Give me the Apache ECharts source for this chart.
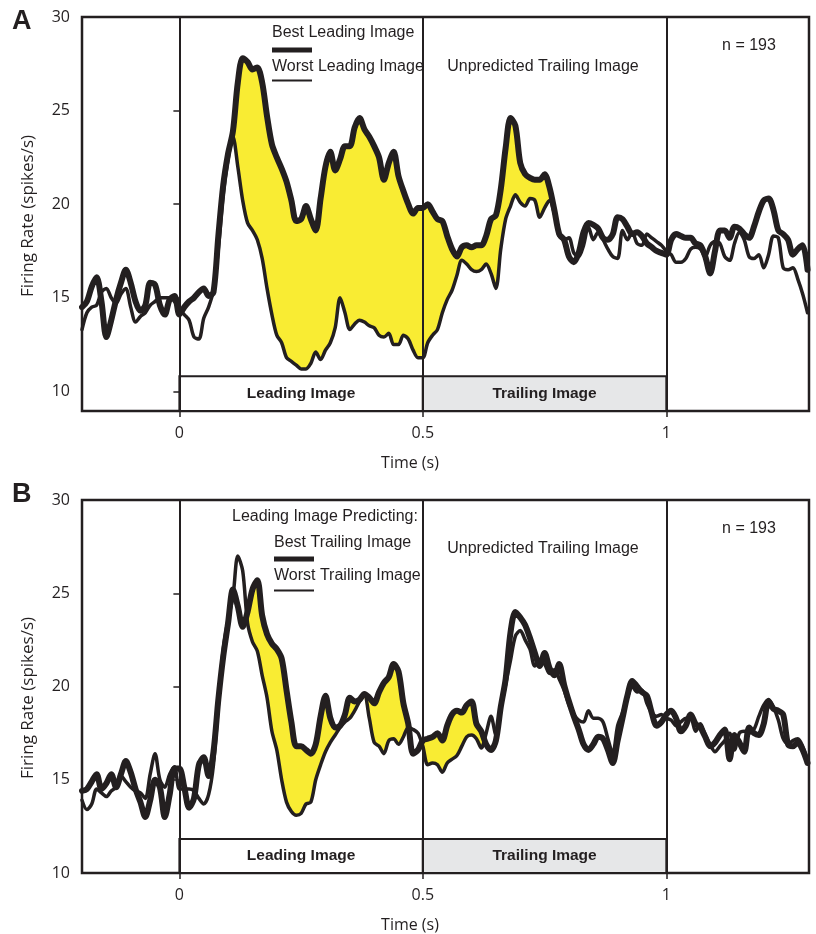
<!DOCTYPE html>
<html>
<head>
<meta charset="utf-8">
<script src="https://cdn.jsdelivr.net/npm/echarts@6/dist/echarts.min.js"></script>
<style>
  html, body { margin: 0; padding: 0; background: #fff; }
  #chart { width: 816px; height: 934px; }
</style>
</head>
<body>
<div id="chart"></div>
<script>
// sample grid (s): 10 ms steps from -0.20 to 1.29
const times = []
for (let i = 0; i < 150; i++) times.push(Math.round((-0.2 + i * 0.01) * 100) / 100)

// panel A, firing rate (spikes/s)
const bestLeadingA = [
  14.5, 14.8, 15.6, 16.1, 14.8, 12.9, 13.8, 14.9, 15.8, 16.5,
  15.8, 14.8, 14.3, 14.6, 15.8, 15.7, 14.6, 14.1, 14.9, 15.1,
  14.1, 14.5, 14.8, 15.0, 15.3, 15.5, 15.1, 15.3, 18.3, 21.0,
  22.7, 23.9, 26.5, 27.8, 27.6, 27.2, 27.3, 26.5, 24.7, 23.2,
  22.5, 21.9, 21.2, 20.2, 19.1, 19.2, 19.9, 19.2, 18.6, 20.3,
  22.0, 22.8, 21.8, 22.4, 23.1, 23.1, 24.1, 24.6, 24.0, 23.6,
  23.1, 22.5, 21.3, 22.2, 22.8, 21.5, 20.7, 20.0, 19.5, 19.8,
  19.8, 20.0, 19.6, 19.2, 19.1, 18.3, 17.6, 17.2, 17.7, 17.8,
  17.7, 17.8, 17.8, 18.3, 19.2, 19.4, 20.8, 23.0, 24.6, 24.2,
  22.2, 21.6, 21.4, 21.3, 21.3, 21.6, 20.9, 19.7, 18.4, 18.1,
  17.2, 16.9, 17.4, 18.5, 19.0, 18.9, 18.7, 18.2, 18.1, 18.4,
  19.3, 19.2, 18.8, 18.4, 18.5, 18.3, 17.9, 17.7, 17.5, 17.4,
  17.3, 18.1, 18.4, 18.3, 18.2, 18.2, 17.9, 17.8, 17.2, 16.3,
  17.5, 18.6, 18.6, 18.2, 18.8, 18.7, 18.4, 18.2, 18.8, 19.6,
  20.2, 20.3, 19.7, 18.6, 18.4, 18.1, 17.3, 17.6, 17.8, 16.5
]
const worstLeadingA = [
  13.3, 14.2, 14.5, 14.6, 15.3, 15.5, 15.0, 14.7, 15.2, 15.5,
  14.5, 13.7, 14.0, 14.2, 14.6, 14.8, 15.0, 15.0, 15.0, 14.8,
  14.4, 14.1, 13.8, 12.9, 12.8, 13.9, 14.5, 15.4, 17.6, 20.5,
  22.4, 23.6, 22.0, 20.2, 19.0, 18.6, 18.1, 17.1, 15.5, 14.1,
  13.0, 12.6, 11.8, 11.6, 11.4, 11.2, 11.2, 11.5, 12.1, 11.7,
  12.2, 12.6, 13.4, 15.0, 14.2, 13.3, 13.6, 13.8, 13.7, 13.5,
  13.4, 13.0, 12.9, 13.1, 12.5, 12.5, 13.0, 12.8, 12.2, 11.8,
  11.8, 12.6, 13.0, 13.3, 14.2, 14.9, 15.4, 16.2, 17.0, 16.8,
  16.5, 16.4, 16.5, 16.8, 16.3, 15.5, 17.6, 19.2, 19.9, 20.5,
  20.1, 19.9, 20.3, 20.2, 19.3, 19.8, 20.2, 19.5, 18.3, 18.1,
  18.2, 17.4, 17.2, 17.8, 18.8, 18.1, 18.5, 18.1, 17.6, 17.2,
  17.1, 18.6, 18.1, 18.5, 17.9, 17.8, 18.4, 18.2, 18.0, 17.8,
  17.5, 17.3, 16.9, 16.9, 17.1, 17.6, 17.7, 17.6, 17.2, 17.8,
  18.0, 17.9, 17.2, 17.0, 17.9, 18.5, 18.1, 17.2, 17.1, 17.3,
  16.6, 17.3, 18.3, 18.2, 16.6, 16.5, 16.6, 16.0, 15.2, 14.2
]

// panel B, firing rate (spikes/s)
const bestTrailingB = [
  14.4, 14.5, 14.9, 15.3, 14.5, 14.8, 15.3, 14.6, 15.3, 16.0,
  15.4, 14.5, 13.8, 13.0, 13.9, 15.0, 14.6, 13.0, 14.2, 15.6,
  15.6, 14.6, 13.5, 14.0, 15.8, 16.2, 15.2, 16.5, 19.3, 21.6,
  23.4, 25.2, 24.3, 23.2, 24.0, 25.2, 25.7, 23.8, 22.8, 22.3,
  22.0, 21.5, 19.8, 18.1, 16.8, 16.8, 16.6, 16.4, 16.9, 18.4,
  19.5, 18.3, 17.8, 17.9, 18.5, 19.4, 19.2, 19.3, 19.6, 19.4,
  19.1, 19.7, 20.2, 20.5, 21.2, 20.8, 19.1, 18.0, 16.4, 16.6,
  17.1, 17.2, 17.3, 17.5, 17.1, 17.9, 18.5, 18.7, 18.6, 19.0,
  19.2, 18.0, 17.6, 16.9, 16.6, 17.1, 18.9, 20.4, 22.9, 24.0,
  23.7, 23.3, 22.6, 21.8, 21.1, 21.8, 21.0, 20.6, 21.2, 20.1,
  19.2, 18.4, 17.7, 16.9, 16.6, 16.9, 17.3, 17.2, 16.6, 15.9,
  17.1, 18.3, 19.5, 20.3, 20.0, 19.7, 19.5, 18.6, 17.9, 18.1,
  18.5, 18.7, 18.3, 17.6, 17.9, 18.5, 18.0, 17.8, 17.3, 16.8,
  17.0, 17.4, 17.7, 16.1, 17.4, 17.0, 16.5, 17.8, 17.5, 17.4,
  18.0, 19.2, 18.8, 18.7, 18.5, 16.9, 16.8, 17.0, 16.6, 15.9
]
const worstTrailingB = [
  13.9, 13.4, 13.7, 14.5, 14.3, 14.1, 14.4, 14.6, 15.2, 14.9,
  14.6, 14.4, 14.3, 14.0, 15.3, 16.4, 15.0, 14.6, 15.3, 15.7,
  14.5, 14.5, 14.5, 14.4, 14.0, 13.7, 14.2, 15.8, 19.0, 22.0,
  23.6, 24.8, 27.0, 26.2, 23.4, 22.4, 21.9, 20.6, 19.4, 17.6,
  16.6, 15.0, 13.8, 13.3, 13.1, 13.2, 13.7, 13.8, 15.0, 15.8,
  16.5, 17.0, 17.4, 17.8, 18.1, 18.3, 18.7, 19.2, 19.5, 18.3,
  17.0, 16.8, 16.4, 17.1, 17.2, 16.9, 17.3, 17.8, 17.7, 17.5,
  16.8, 15.8, 15.9, 15.8, 15.4, 15.9, 16.1, 16.3, 16.8, 17.3,
  17.4, 17.2, 16.7, 17.5, 18.4, 17.4, 18.8, 20.1, 21.4, 22.7,
  23.0, 22.5, 22.0, 21.1, 21.3, 21.2, 20.7, 20.9, 20.4, 19.8,
  19.0, 18.5, 18.2, 18.1, 18.7, 18.3, 18.3, 18.1, 17.2, 16.4,
  17.9, 18.6, 19.4, 20.0, 19.7, 19.8, 19.1, 18.6, 18.4, 18.5,
  18.3, 18.2, 17.9, 18.1, 18.3, 18.3, 17.6, 18.0, 17.4, 16.9,
  16.5, 16.8, 17.1, 17.5, 16.6, 17.5, 17.6, 17.5, 17.7, 18.4,
  19.0, 19.3, 18.9, 18.2, 17.2, 16.9, 17.1, 17.2, 16.8, 16.0
]

// time windows (s) where best > worst is shaded
const fillWindowsA = [[0.11, 0.77]]
const fillWindowsB = [[0.14, 0.33], [0.33, 0.48], [0.49, 0.64]]

const yTicks = [10, 15, 20, 25, 30]
const xTicks = [0, 0.5, 1]
const epochLines = [0, 0.5, 1]
const epochNames = ['Leading Image', 'Trailing Image']
const epochEdges = [0, 0.5, 1]

const INK = '#231f20'
const YELLOW = '#f9ec33'
const SANS = '"Liberation Sans", Arial, sans-serif'
const AXISFONT = '"Open Sans", sans-serif'

const chart = echarts.init(document.getElementById('chart'))

const panels = [
  { best: bestLeadingA, worst: worstLeadingA, fills: fillWindowsA, top: 17, height: 394, ymin: 8.95, boxTop: 10.8 },
  { best: bestTrailingB, worst: worstTrailingB, fills: fillWindowsB, top: 500, height: 373, ymin: 10, boxTop: 11.82 },
]

const grid = panels.map(p => ({
  left: 82, width: 727, top: p.top, height: p.height,
  show: true, borderColor: INK, borderWidth: 2.5, backgroundColor: 'transparent',
}))

const xAxis = panels.map((p, i) => ({
  type: 'value', gridIndex: i, min: -0.2, max: 1.293,
  axisLine: { show: false },
  splitLine: { show: false },
  axisTick: { show: true, customValues: xTicks, length: 6, lineStyle: { color: INK, width: 1.5 } },
  axisLabel: { customValues: xTicks, margin: 14, color: INK, fontSize: 16, fontFamily: AXISFONT, formatter: v => String(v) },
}))

const yAxis = panels.map((p, i) => ({
  type: 'value', gridIndex: i, min: p.ymin, max: 30,
  axisLine: { show: false },
  splitLine: { show: false },
  axisTick: { show: true, customValues: yTicks, length: 6, lineStyle: { color: INK, width: 1.5 } },
  axisLabel: { customValues: yTicks, margin: 12, color: INK, fontSize: 16, fontFamily: AXISFONT },
}))

function fillItem(p) {
  return function (params, api) {
    const [from, to] = p.fills[params.dataIndex]
    const upper = []
    const lower = []
    times.forEach((t, k) => {
      if (t < from - 1e-9 || t > to + 1e-9) return
      upper.push(api.coord([t, Math.max(p.best[k], p.worst[k])]))
      lower.push(api.coord([t, p.worst[k]]))
    })
    return {
      type: 'polygon',
      shape: { points: upper.concat(lower.reverse()) },
      style: { fill: YELLOW, stroke: YELLOW, lineWidth: 0.8 },
    }
  }
}

const series = []
panels.forEach((p, i) => {
  series.push({
    type: 'custom', xAxisIndex: i, yAxisIndex: i, z: 1, silent: true,
    renderItem: fillItem(p),
    data: p.fills.map(w => [w[0], 20]),
  })
  series.push({
    type: 'line', xAxisIndex: i, yAxisIndex: i, z: 2, silent: true, data: [],
    markLine: {
      silent: true, symbol: 'none', label: { show: false },
      lineStyle: { color: INK, width: 2, type: 'solid' },
      data: epochLines.map(x => ({ xAxis: x })),
    },
    markArea: {
      silent: true,
      data: epochNames.map((name, k) => [
        {
          xAxis: epochEdges[k], yAxis: p.ymin, name,
          itemStyle: { color: k === 0 ? '#ffffff' : '#e6e7e8', borderColor: INK, borderWidth: 2 },
        },
        { xAxis: epochEdges[k + 1], yAxis: p.boxTop },
      ]),
      label: { show: true, position: 'inside', color: INK, fontWeight: 'bold', fontSize: 15.5, fontFamily: SANS },
    },
  })
  series.push({
    type: 'line', xAxisIndex: i, yAxisIndex: i, z: 3, silent: true,
    showSymbol: false, smooth: 0.3,
    lineStyle: { color: INK, width: 3.5, cap: 'round', join: 'round' },
    data: times.map((t, k) => [t, p.worst[k]]),
  })
  series.push({
    type: 'line', xAxisIndex: i, yAxisIndex: i, z: 4, silent: true,
    showSymbol: false, smooth: 0.3,
    lineStyle: { color: INK, width: 6, cap: 'round', join: 'round' },
    data: times.map((t, k) => [t, p.best[k]]),
  })
})

function label(text, x, y, opts = {}) {
  return {
    type: 'text', x, y, rotation: opts.rotation || 0, z: 10,
    style: {
      text, fill: INK,
      font: opts.font || ('16px ' + SANS),
      align: opts.align || 'left', verticalAlign: 'middle',
      textAlign: opts.align || 'left', textVerticalAlign: 'middle',
    },
  }
}
function bar(x1, x2, y, w) {
  return { type: 'line', z: 10, shape: { x1, y1: y, x2, y2: y }, style: { stroke: INK, lineWidth: w } }
}

const graphic = [
  label('A', 12, 22, { font: 'bold 27px ' + SANS }),
  label('B', 12, 495, { font: 'bold 27px ' + SANS }),
  label('Best Leading Image', 272, 33),
  bar(272, 312, 50, 5),
  label('Worst Leading Image', 272, 67),
  bar(272, 312, 80.5, 2),
  label('Unpredicted Trailing Image', 543, 67, { align: 'center' }),
  label('n = 193', 749, 46, { align: 'center' }),
  label('Leading Image Predicting:', 232, 517),
  label('Best Trailing Image', 274, 543),
  bar(274, 314, 559, 5),
  label('Worst Trailing Image', 274, 576),
  bar(274, 314, 590.5, 2),
  label('Unpredicted Trailing Image', 543, 549, { align: 'center' }),
  label('n = 193', 749, 529, { align: 'center' }),
  label('Time (s)', 410, 463, { align: 'center', font: '16px ' + AXISFONT }),
  label('Time (s)', 410, 925, { align: 'center', font: '16px ' + AXISFONT }),
  label('Firing Rate (spikes/s)', 28, 216, { align: 'center', rotation: Math.PI / 2, font: '17px ' + AXISFONT }),
  label('Firing Rate (spikes/s)', 28, 698, { align: 'center', rotation: Math.PI / 2, font: '17px ' + AXISFONT }),
]

chart.setOption({
  animation: false,
  backgroundColor: '#ffffff',
  grid, xAxis, yAxis, series, graphic,
})
</script>
</body>
</html>
